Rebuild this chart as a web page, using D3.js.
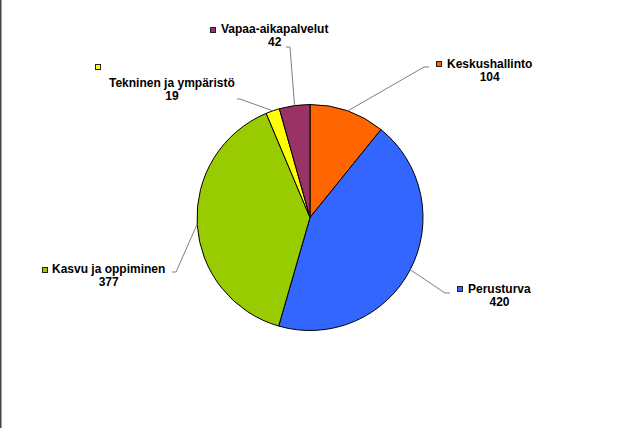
<!DOCTYPE html>
<html>
<head>
<meta charset="utf-8">
<script src="https://cdn.jsdelivr.net/npm/d3@7"></script>
<style>
  body { margin: 0; background: #fff; }
  svg { display: block; }
</style>
</head>
<body>
<div id="chart"></div>
<script>
const categories = ["Keskushallinto", "Perusturva", "Kasvu ja oppiminen", "Tekninen ja ympäristö", "Vapaa-aikapalvelut"];
const values = [104, 420, 377, 19, 42];
const colors = ["#ff6600", "#3366ff", "#99cc00", "#ffff00", "#993366"];

// where each data label sits (layout only)
const labelPos = [
  { keyX: 436, keyY: 61, textX: 447, textY: 68, elbow: [424, 67], end: [429, 67] },
  { keyX: 457, keyY: 286, textX: 468, textY: 293, elbow: [445, 293], end: [450, 293] },
  { keyX: 42, keyY: 267, textX: 52, textY: 273, elbow: [176, 272], end: [172, 272] },
  { keyX: 95, keyY: 64, textX: 109, textY: 87, elbow: [240, 99], end: [237, 99] },
  { keyX: 210, keyY: 27, textX: 221, textY: 33, elbow: [290, 47], end: [286, 47] }
];

const width = 628;
const height = 428;
const cx = 310, cy = 217.5, radius = 113;

const svg = d3.select("#chart")
  .append("svg")
  .attr("width", width)
  .attr("height", height);

svg.append("rect")
  .attr("x", 0).attr("y", 0)
  .attr("width", 1.5).attr("height", height)
  .attr("fill", "#444");

const data = categories.map((c, i) => ({ name: c, value: values[i], color: colors[i], pos: labelPos[i] }));

const pie = d3.pie().sort(null).value(d => d.value);
const arc = d3.arc().innerRadius(0).outerRadius(radius);
const edgeArc = d3.arc().innerRadius(radius).outerRadius(radius);

const g = svg.append("g").attr("transform", `translate(${cx},${cy})`);
const arcs = pie(data);

g.selectAll("path.slice")
  .data(arcs)
  .enter()
  .append("path")
  .attr("class", "slice")
  .attr("d", arc)
  .attr("fill", d => d.data.color)
  .attr("stroke", "#000")
  .attr("stroke-width", 1);

// leader lines
svg.selectAll("polyline.leader")
  .data(arcs)
  .enter()
  .append("polyline")
  .attr("class", "leader")
  .attr("points", d => {
    const [x, y] = edgeArc.centroid(d);
    const p = d.data.pos;
    return [[x + cx, y + cy], p.elbow, p.end].map(q => q.join(",")).join(" ");
  })
  .attr("fill", "none")
  .attr("stroke", "#808080")
  .attr("stroke-width", 1);

const labels = svg.selectAll("g.label")
  .data(arcs)
  .enter()
  .append("g")
  .attr("class", "label");

labels.append("rect")
  .attr("x", d => d.data.pos.keyX + 0.5)
  .attr("y", d => d.data.pos.keyY + 0.5)
  .attr("width", 5)
  .attr("height", 5)
  .attr("fill", d => d.data.color)
  .attr("stroke", "#222")
  .attr("stroke-width", 1);

const nameText = labels.append("text")
  .attr("x", d => d.data.pos.textX)
  .attr("y", d => d.data.pos.textY)
  .attr("font-family", "Liberation Sans, Arial, sans-serif")
  .attr("font-size", "12px")
  .attr("font-weight", "bold")
  .attr("fill", "#000")
  .text(d => d.data.name);

labels.each(function (d) {
  const box = d3.select(this).select("text").node().getBBox();
  d3.select(this).append("text")
    .attr("x", box.x + box.width / 2)
    .attr("y", d.data.pos.textY + 12.5)
    .attr("text-anchor", "middle")
    .attr("font-family", "Liberation Sans, Arial, sans-serif")
    .attr("font-size", "12px")
    .attr("font-weight", "bold")
    .attr("fill", "#000")
    .text(d.data.value);
});
</script>
</body>
</html>
